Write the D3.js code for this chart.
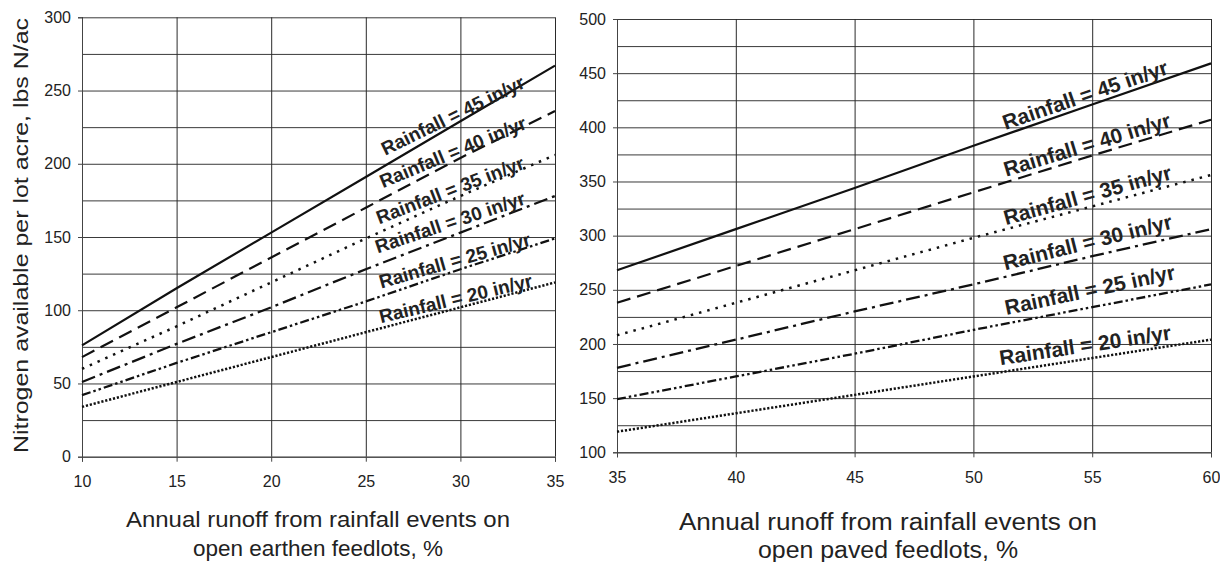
<!DOCTYPE html>
<html><head><meta charset="utf-8">
<script src="https://cdn.jsdelivr.net/npm/d3@7"></script>
<style>
body{margin:0;background:#fff}
svg{display:block}
text{font-family:"Liberation Sans",Arial,Helvetica,sans-serif}
</style>
</head><body>
<svg id="c" width="1220" height="562"></svg>
<script>
// ---------------- DATA ----------------
const rainfall = [45, 40, 35, 30, 25, 20];
const seriesLabels = ["Rainfall = 45 in/yr", "Rainfall = 40 in/yr", "Rainfall = 35 in/yr",
                      "Rainfall = 30 in/yr", "Rainfall = 25 in/yr", "Rainfall = 20 in/yr"];

// Left panel: open earthen feedlots
const earthenRunoff = [10, 15, 20, 25, 30, 35];
const earthen45 = [76, 115, 153, 191, 229, 267];
const earthen40 = [68, 102, 136, 170, 204, 236];
const earthen35 = [60, 89, 119, 149, 178, 206];
const earthen30 = [51, 77, 102, 128, 153, 178];
const earthen25 = [42, 64, 85, 106, 128, 149];
const earthen20 = [34, 51, 68, 85, 102, 119];
const earthenYTicks = [0, 50, 100, 150, 200, 250, 300];
const earthenXTicks = [10, 15, 20, 25, 30, 35];

// Right panel: open paved feedlots
const pavedRunoff = [35, 40, 45, 50, 55, 60];
const paved45 = [268, 306, 344, 383, 421, 459];
const paved40 = [238, 272, 306, 340, 374, 407];
const paved35 = [208, 238, 268, 298, 327, 356];
const paved30 = [178, 204, 230, 255, 281, 306];
const paved25 = [149, 170, 191, 213, 234, 255];
const paved20 = [119, 136, 153, 170, 187, 204];
const pavedYTicks = [100, 150, 200, 250, 300, 350, 400, 450, 500];
const pavedXTicks = [35, 40, 45, 50, 55, 60];

const yTitle = "Nitrogen available per lot acre, lbs N/ac";
const earthenTitle = ["Annual runoff from rainfall events on", "open earthen feedlots, %"];
const pavedTitle = ["Annual runoff from rainfall events on", "open paved feedlots, %"];

// ---------------- STYLE / LAYOUT ----------------
const lineStyles = [
  {dash: null, w: 2.2},
  {dash: "14,7", w: 2.2},
  {dash: "2.5,6", w: 2.5},
  {dash: "14,5,3,5", w: 2.3},
  {dash: "9,3,2.5,3,2.5,3", w: 2.3},
  {dash: "2.2,1.8", w: 2.5}
];

const svg = d3.select("#c");

function drawPanel(o) {
  const g = svg.append("g");
  const x = d3.scaleLinear().domain(o.xDomain).range(o.xRange);
  const y = d3.scaleLinear().domain(o.yDomain).range(o.yRange);
  const pw = o.xRange[1] - o.xRange[0];
  const ph = o.yRange[0] - o.yRange[1];
  const gridY = d3.range(o.yDomain[0], o.yDomain[1] + 0.001, 25);

  // horizontal grid
  g.append("g").attr("transform", `translate(${o.xRange[0]},0)`)
    .call(d3.axisLeft(y).tickValues(gridY).tickSize(-pw).tickFormat(""))
    .call(s => s.select(".domain").remove())
    .selectAll("line").attr("stroke", "#3a3a3a").attr("stroke-width", 1);
  // vertical grid
  g.append("g").attr("transform", `translate(0,${o.yRange[1]})`)
    .call(d3.axisTop(x).tickValues(o.xTicks).tickSize(-ph).tickFormat(""))
    .call(s => s.select(".domain").remove())
    .selectAll("line").attr("stroke", "#2a2a2a").attr("stroke-width", 1);

  // left axis
  const ax = g.append("g").attr("transform", `translate(${o.xRange[0]},0)`)
    .call(d3.axisLeft(y).tickValues(o.yTicks).tickSize(4).tickPadding(7));
  ax.select(".domain").attr("stroke", "#444");
  ax.selectAll("line").attr("stroke", "#444");
  ax.selectAll("text").attr("fill", "#222").style("font-size", "16px");

  // bottom axis
  const bx = g.append("g").attr("transform", `translate(0,${o.yRange[0]})`)
    .call(d3.axisBottom(x).tickValues(o.xTicks).tickSize(5).tickPadding(14));
  bx.select(".domain").attr("stroke", "#444");
  bx.selectAll("line").attr("stroke", "#444");
  bx.selectAll("text").attr("fill", "#222").style("font-size", "16px");

  // series lines
  const line = d3.line().x(d => x(d[0])).y(d => y(d[1]));
  o.series.forEach((vals, i) => {
    const pts = o.xs.map((xv, k) => [xv, vals[k]]);
    const p = g.append("path").datum(pts).attr("d", line)
      .attr("fill", "none").attr("stroke", "#111")
      .attr("stroke-width", lineStyles[i].w);
    if (lineStyles[i].dash) p.attr("stroke-dasharray", lineStyles[i].dash);
  });

  // series labels
  o.labelPos.forEach((lp, i) => {
    g.append("text")
      .attr("transform", `translate(${x(lp[0])},${y(lp[1])}) rotate(${-lp[2]})`)
      .attr("text-anchor", "middle").attr("dy", "0.35em")
      .attr("fill", "#222")
      .style("font-weight", "bold").style("font-size", o.labelSize + "px")
      .text(seriesLabels[i]);
  });

  // x title
  o.title.forEach((t, i) => {
    g.append("text").attr("x", o.titleX).attr("y", o.titleY[i])
      .attr("text-anchor", "middle").attr("fill", "#222")
      .style("font-size", o.titleSize + "px")
      .attr("textLength", o.titleLen[i]).attr("lengthAdjust", "spacingAndGlyphs")
      .text(t);
  });
}

drawPanel({
  xDomain: [10, 35], xRange: [82, 555],
  yDomain: [0, 300], yRange: [456.7, 17.3],
  xTicks: earthenXTicks, yTicks: earthenYTicks,
  xs: earthenRunoff,
  series: [earthen45, earthen40, earthen35, earthen30, earthen25, earthen20],
  labelPos: [[29.6, 233, 26], [29.6, 208, 22.5], [29.45, 182, 21], [29.45, 160, 18.5], [29.7, 134, 16], [29.75, 108, 13.5]],
  labelSize: 19,
  title: earthenTitle, titleX: 318, titleY: [527, 556], titleSize: 22, titleLen: [384, 250]
});

drawPanel({
  xDomain: [35, 60], xRange: [617, 1211],
  yDomain: [100, 500], yRange: [452.3, 19],
  xTicks: pavedXTicks, yTicks: pavedYTicks,
  xs: pavedRunoff,
  series: [paved45, paved40, paved35, paved30, paved25, paved20],
  labelPos: [[54.7, 430, 19], [54.78, 384, 16.8], [54.8, 337.5, 15.5], [54.8, 294, 14], [54.9, 250, 12], [54.7, 199, 8.5]],
  labelSize: 21,
  title: pavedTitle, titleX: 888, titleY: [530, 558], titleSize: 23, titleLen: [418, 260]
});

// y title
svg.append("text")
  .attr("transform", "translate(28,235.5) rotate(-90)")
  .attr("text-anchor", "middle").attr("fill", "#222")
  .style("font-size", "21px")
  .attr("textLength", 435).attr("lengthAdjust", "spacingAndGlyphs")
  .text(yTitle);
</script>
</body></html>
